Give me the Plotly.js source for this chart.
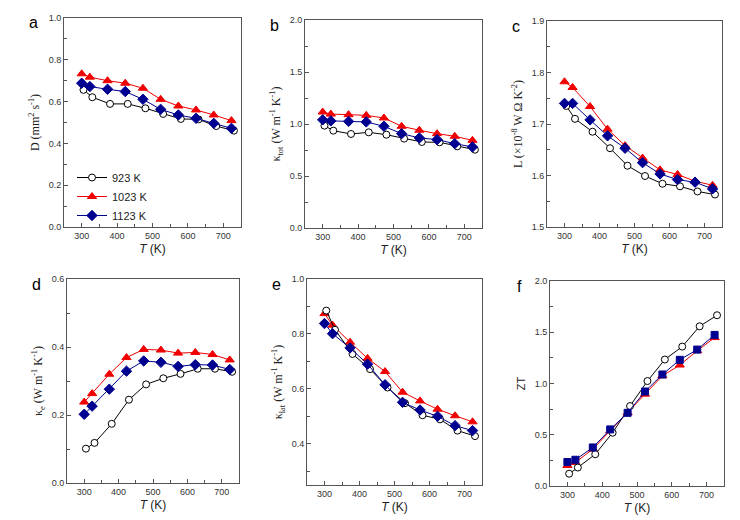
<!DOCTYPE html>
<html>
<head>
<meta charset="utf-8">
<script src="https://cdn.plot.ly/plotly-3.0.1.min.js"></script>
<style>
  html, body { margin: 0; padding: 0; background: #fff; }
  #chart { width: 740px; height: 520px; }
</style>
</head>
<body>
<div id="chart"></div>
<script>
// Temperatures (K): the 923 K sample was measured slightly offset
const T923 = [305, 330, 380, 430, 480, 530, 580, 630, 680, 730];
const T1023 = [300, 323, 373, 423, 473, 523, 573, 623, 673, 723];
const T1123 = [300, 323, 373, 423, 473, 523, 573, 623, 673, 723];

const seriesNames = ['923 K', '1023 K', '1123 K'];

// a: thermal diffusivity D (mm2 s-1)
const D923 = [0.656, 0.621, 0.589, 0.589, 0.568, 0.541, 0.517, 0.515, 0.483, 0.461];
const D1023 = [0.733, 0.717, 0.700, 0.688, 0.664, 0.611, 0.579, 0.560, 0.536, 0.509];
const D1123 = [0.688, 0.672, 0.659, 0.648, 0.611, 0.563, 0.536, 0.520, 0.496, 0.472];

// b: total thermal conductivity
const ktot923 = [0.984, 0.936, 0.904, 0.920, 0.897, 0.859, 0.827, 0.824, 0.785, 0.753];
const ktot1023 = [1.115, 1.095, 1.090, 1.083, 1.058, 0.978, 0.940, 0.907, 0.882, 0.843];
const ktot1123 = [1.040, 1.030, 1.025, 1.020, 0.978, 0.907, 0.866, 0.850, 0.811, 0.779];

// c: Lorenz number (1e-8 W Ohm K-2)
const L923 = [1.735, 1.710, 1.685, 1.653, 1.619, 1.599, 1.584, 1.579, 1.569, 1.563];
const L1023 = [1.782, 1.771, 1.734, 1.690, 1.658, 1.634, 1.611, 1.602, 1.589, 1.581];
const L1123 = [1.740, 1.740, 1.708, 1.677, 1.653, 1.625, 1.603, 1.592, 1.587, 1.574];

// d: electronic thermal conductivity
const ke923 = [0.101, 0.118, 0.174, 0.245, 0.290, 0.308, 0.321, 0.336, 0.336, 0.327];
const ke1023 = [0.238, 0.263, 0.320, 0.369, 0.393, 0.391, 0.382, 0.384, 0.378, 0.362];
const ke1123 = [0.202, 0.226, 0.276, 0.329, 0.359, 0.355, 0.343, 0.348, 0.347, 0.334];

// e: lattice thermal conductivity
const klat923 = [0.885, 0.815, 0.727, 0.672, 0.605, 0.548, 0.504, 0.489, 0.448, 0.428];
const klat1023 = [0.874, 0.832, 0.770, 0.711, 0.663, 0.588, 0.556, 0.526, 0.502, 0.480];
const klat1123 = [0.838, 0.801, 0.749, 0.690, 0.615, 0.551, 0.523, 0.500, 0.466, 0.448];

// f: figure of merit ZT
const ZT923 = [0.120, 0.180, 0.310, 0.520, 0.780, 1.024, 1.234, 1.360, 1.558, 1.666];
const ZT1023 = [0.200, 0.230, 0.360, 0.540, 0.714, 0.896, 1.075, 1.180, 1.320, 1.448];
const ZT1123 = [0.234, 0.256, 0.376, 0.552, 0.714, 0.922, 1.088, 1.231, 1.331, 1.474];

const panels = [
  { id: '', letter: 'a', data: [D923, D1023, D1123], range: [0, 1.0], dtick: 0.2,
    title: 'D (mm<sup>2</sup> s<sup>-1</sup>)', x: [64, 241], y: [18, 227] },
  { id: '2', letter: 'b', data: [ktot923, ktot1023, ktot1123], range: [0, 2.0], dtick: 0.5,
    title: 'κ<sub>tot</sub> (W m<sup>-1</sup> K<sup>-1</sup>)', x: [305, 482], y: [20, 228] },
  { id: '3', letter: 'c', data: [L923, L1023, L1123], range: [1.5, 1.9], dtick: 0.1,
    title: 'L (×10<sup>-8</sup> W Ω K<sup>-2</sup>)', x: [547, 722], y: [21, 227] },
  { id: '4', letter: 'd', data: [ke923, ke1023, ke1123], range: [0, 0.6], dtick: 0.2,
    title: 'κ<sub>e</sub> (W m<sup>-1</sup> K<sup>-1</sup>)', x: [67, 239], y: [279, 483] },
  { id: '5', letter: 'e', data: [klat923, klat1023, klat1123], range: [0.25, 1.0], dtick: 0.2,
    title: 'κ<sub>lat</sub> (W m<sup>-1</sup> K<sup>-1</sup>)', x: [307, 482], y: [279, 485] },
  { id: '6', letter: 'f', data: [ZT923, ZT1023, ZT1123], range: [0, 2.0], dtick: 0.5,
    title: 'ZT', x: [550, 724], y: [281, 486], sans: true },
];

const W = 740, H = 520;
const styles = [
  { color: '#000000', fill: '#ffffff', symbol: 'circle', size: 7, T: T923 },
  { color: '#f00000', fill: '#f00000', symbol: 'triangle-up', size: 8, T: T1023 },
  { color: '#000090', fill: '#000090', symbol: 'diamond', size: 8, T: T1123 },
];
// draw order: red, black, blue on top
const drawOrder = [1, 0, 2];

const traces = [];
const layout = {
  width: W, height: H,
  margin: { t: 0, r: 0, b: 0, l: 0 },
  paper_bgcolor: '#fff', plot_bgcolor: '#fff',
  font: { family: 'Liberation Sans, Arial, sans-serif', size: 9, color: '#333' },
  showlegend: true,
  legend: {
    x: 72 / W, y: 1 - 163 / H, xanchor: 'left', yanchor: 'top',
    bgcolor: 'rgba(0,0,0,0)', font: { size: 11, color: '#222' },
    itemwidth: 30, tracegroupgap: 0,
  },
  annotations: [],
};

panels.forEach((p, pi) => {
  const xa = 'xaxis' + p.id, ya = 'yaxis' + p.id;
  drawOrder.forEach(si => {
    const s = styles[si];
    let symbol = s.symbol, size = s.size;
    if (p.letter === 'f' && si === 2) { symbol = 'square'; size = 7; }
    traces.push({
      x: s.T, y: p.data[si],
      xaxis: 'x' + p.id, yaxis: 'y' + p.id,
      type: 'scatter', mode: 'lines+markers',
      name: seriesNames[si],
      legendrank: si + 1,
      showlegend: pi === 0,
      line: { color: s.color, width: 1 },
      marker: {
        symbol: symbol, size: size, color: s.fill,
        line: { color: s.color, width: 1 },
      },
    });
  });
  const axisCommon = {
    showline: true, mirror: true, linecolor: '#555', linewidth: 1,
    ticks: 'inside', ticklen: 4, tickcolor: '#555', showgrid: false, zeroline: false,
  };
  layout[xa] = Object.assign({}, axisCommon, {
    domain: [p.x[0] / W, p.x[1] / W],
    anchor: 'y' + p.id, range: [250, 750], dtick: 100, tick0: 300,
    minor: { dtick: 50, ticklen: 3, tickcolor: '#555', ticks: 'inside' },
    title: { text: '<i>T</i> (K)', standoff: 4, font: { size: 12, color: '#222' } },
  });
  layout[ya] = Object.assign({}, axisCommon, {
    domain: [1 - p.y[1] / H, 1 - p.y[0] / H],
    anchor: 'x' + p.id, range: p.range, dtick: p.dtick, tickformat: '.1f',
    minor: { dtick: p.dtick / 2, ticklen: 3, tickcolor: '#555', ticks: 'inside' },
    title: {
      text: p.title, standoff: 6,
      font: p.sans ? { size: 11, color: '#222' }
                   : { family: 'Liberation Serif, Times New Roman, serif', size: 12, color: '#222' },
    },
  });
  layout.annotations.push({
    text: p.letter, xref: 'paper', yref: 'paper',
    x: (p.x[0] - 31) / W, y: 1 - (p.y[0] + 5) / H,
    xanchor: 'center', yanchor: 'middle', showarrow: false,
    font: { size: 16, color: '#000' },
  });
});

Plotly.newPlot('chart', traces, layout, { displayModeBar: false, staticPlot: true });
</script>
</body>
</html>
